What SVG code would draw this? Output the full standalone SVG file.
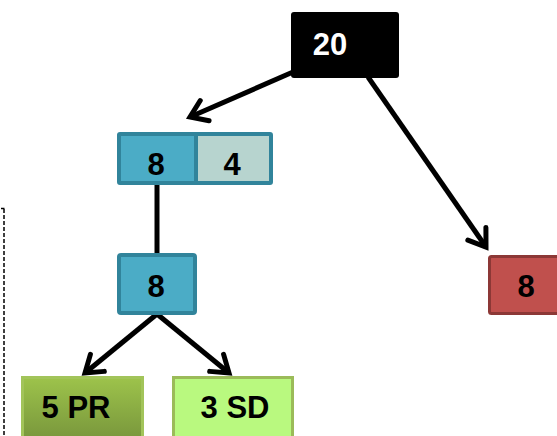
<svg xmlns="http://www.w3.org/2000/svg" width="557" height="436" viewBox="0 0 557 436">
<style>
  .t { font-family: "Liberation Sans", Arial, sans-serif; font-weight: bold; font-size: 31px; text-anchor: middle; fill: #000; }
  .w { fill: #fff; }
  .c { stroke: #000; stroke-width: 5; fill: none; }
</style>
<defs>
  <marker id="ah" markerUnits="userSpaceOnUse" markerWidth="30" markerHeight="30" viewBox="-20 -15 30 30" refX="0" refY="0" orient="auto" overflow="visible">
    <path d="M-16,-11 L0,0 L-16,11" fill="none" stroke="#000" stroke-width="5" stroke-linejoin="miter" stroke-linecap="round"/>
  </marker>
  <linearGradient id="gpr" x1="0" y1="0" x2="0" y2="1">
    <stop offset="0" stop-color="#9dc34b"/>
    <stop offset="1" stop-color="#74913a"/>
  </linearGradient>
</defs>

<line x1="4" y1="209" x2="4" y2="436" stroke="#000" stroke-width="1.5" stroke-dasharray="4 2"/>
<line x1="1" y1="208.5" x2="4.5" y2="208.5" stroke="#000" stroke-width="1.5"/>

<g id="connectors">
  <line class="c" x1="293" y1="72" x2="190" y2="117" marker-end="url(#ah)"/>
  <line class="c" x1="368" y1="77" x2="486" y2="247" marker-end="url(#ah)"/>
  <line class="c" x1="157" y1="185" x2="157" y2="256"/>
  <line class="c" x1="157" y1="314" x2="85" y2="373" marker-end="url(#ah)"/>
  <line class="c" x1="157" y1="314" x2="229" y2="373" marker-end="url(#ah)"/>
</g>

<g id="n20">
  <rect x="291" y="12" width="108" height="66" rx="3" fill="#000"/>
  <text class="t w" x="330" y="55">20</text>
</g>

<g id="n84">
  <rect x="119" y="134" width="77" height="49" fill="#4bacc6"/>
  <rect x="196" y="134" width="75" height="49" fill="#b7d4cf"/>
  <rect x="119" y="134" width="152" height="49" rx="1" fill="none" stroke="#31849b" stroke-width="4"/>
  <line x1="196" y1="134" x2="196" y2="183" stroke="#31849b" stroke-width="4"/>
  <text class="t" x="156" y="175">8</text>
  <text class="t" x="232" y="175">4</text>
</g>

<g id="n8mid">
  <rect x="119" y="255" width="76" height="58" rx="2" fill="#4bacc6" stroke="#31849b" stroke-width="4"/>
  <text class="t" x="156" y="297">8</text>
</g>

<g id="n8red">
  <rect x="489.5" y="256.5" width="72" height="57" rx="2" fill="#c0504d" stroke="#8c3836" stroke-width="3"/>
  <text class="t" x="526" y="297">8</text>
</g>

<g id="n5pr">
  <rect x="22.5" y="377.5" width="120" height="70" fill="url(#gpr)" stroke="#a2c45a" stroke-width="3"/>
  <text class="t" x="76" y="418">5 PR</text>
</g>

<g id="n3sd">
  <rect x="173.5" y="377.5" width="119" height="70" fill="#b9f97f" stroke="#9bbb59" stroke-width="3"/>
  <text class="t" x="235" y="418">3 SD</text>
</g>
</svg>
